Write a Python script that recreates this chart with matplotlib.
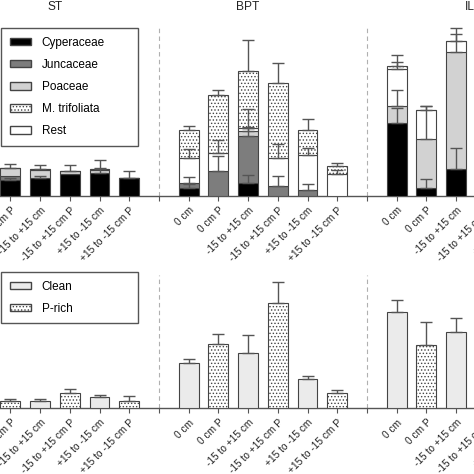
import numpy as np
import matplotlib
matplotlib.use("Agg")
import matplotlib.pyplot as plt
import matplotlib.transforms as mtransforms
from matplotlib.patches import Patch

plt.rcParams['font.family'] = ['Liberation Sans', 'DejaVu Sans']
plt.rcParams['hatch.linewidth'] = 0.6
plt.rcParams['hatch.color'] = '#222222'

nan = np.nan

sites = ['ST', 'BPT', 'IL']
depth_labels = ['0 cm', '0 cm P', '-15 to +15 cm', '-15 to +15 cm P',
                '+15 to -15 cm', '+15 to -15 cm P']

# top panel: biomass per plant group, one list per site (6 treatments each)
cyper = {'ST': [nan, 16, 18.4, 22.4, 23.4, 18],
         'BPT': [8, 0, 12.7, 0, 0, 0],
         'IL': [73.3, 8, 26.7, nan, nan, nan]}
junc = {'ST': [nan, 4.3, 0, 0, 0, 0],
        'BPT': [5.3, 25, 47.6, 10, 6, 0],
        'IL': [0, 0, 0, nan, nan, nan]}
poac = {'ST': [nan, 7.3, 8, 2.3, 2.3, 0],
        'BPT': [0, 0, 5, 0, 0, 0],
        'IL': [16.4, 49.3, 117.3, nan, nan, nan]}
rest = {'ST': [nan, 0.6, 1, 0, 1, 0],
        'BPT': [25, 17.7, 3, 27.7, 35, 22],
        'IL': [37.6, 28.4, 10.7, nan, nan, nan]}
mtrif = {'ST': [nan, 0, 0, 0, 0, 0],
         'BPT': [27.3, 58, 56.7, 75, 25, 8],
         'IL': [2.7, 0, 0, nan, nan, nan]}

cyper_err = {'ST': [nan, 2, 1.6, 0, 5, 7],
             'BPT': [3.7, 0, 8.3, 0, 0, 0],
             'IL': [15, 9.4, 21.7, nan, nan, nan]}
junc_err = {'ST': [nan, 0, 0, 0, 0, 0],
            'BPT': [5.7, 15.3, 9, 10, 5.7, 0],
            'IL': [0, 0, 0, nan, nan, nan]}
poac_err = {'ST': [nan, 4.5, 0, 6.7, 0, 0],
            'BPT': [0, 0, 3, 0, 0, 0],
            'IL': [16, 32.3, 17.7, nan, nan, nan]}
rest_err = {'ST': [nan, 0, 3.6, 0, 9.7, 0],
            'BPT': [9, 13, 19, 14.3, 6.7, 4],
            'IL': [6.6, 4, 13.7, nan, nan, nan]}
mtrif_err = {'ST': [nan, 0, 0, 0, 0, 0],
             'BPT': [4, 5.3, 31, 20, 11, 2.7],
             'IL': [11, 0, 0, nan, nan, nan]}

# bottom panel: clean vs P-rich
total = {'ST': [nan, 7.7, 7, 15, 11, 7.7],
         'BPT': [45, 64.7, 55.7, 105, 29, 15.7],
         'IL': [96.3, 63, 76.7, nan, nan, nan]}
total_err = {'ST': [nan, 1.5, 2, 4, 2.7, 4.7],
             'BPT': [4.7, 9.3, 17.7, 21.3, 3, 3],
             'IL': [11.7, 23.7, 13.7, nan, nan, nan]}

# ---- layout ----
W = 474
px0, ppu = -19.3, 29.71          # pixel of x=0, pixels per unit
xlo, xhi = -1, 20
left = (px0 + ppu * xlo) / W
width = ppu * (xhi - xlo) / W

fig = plt.figure(figsize=(4.74, 4.74), dpi=100)
ax1 = fig.add_axes([left, (W - 196) / W, width, 174 / W])
ax2 = fig.add_axes([left, (W - 408.3) / W, width, 136.3 / W])
ax1.set_ylim(0, 174)
ax2.set_ylim(0, 136.3)

edge = '#444444'
bw = 0.67
dots = '.....'
c_cyp, c_jun, c_poa, c_clean = 'black', '#7d7d7d', '#d2d2d2', '#ebebeb'

positions = {}
for i, s in enumerate(sites):
    positions[s] = np.arange(6) + 7 * i

seps = [6, 13]
all_ticks = np.arange(xlo, xhi + 1)


def err_bars(ax, x, top, err):
    top = np.asarray(top, float)
    err = np.asarray(err, float)
    ok = np.isfinite(top) & np.isfinite(err) & (err > 0)
    ax.errorbar(x[ok], top[ok], yerr=[np.zeros(ok.sum()), err[ok]], fmt='none',
                ecolor='#555555', elinewidth=1, capsize=4.5, capthick=1, zorder=5)


for s in sites:
    x = positions[s]
    bottom = np.zeros(6)
    stack = [(cyper[s], cyper_err[s], c_cyp, None),
             (junc[s], junc_err[s], c_jun, None),
             (poac[s], poac_err[s], c_poa, None),
             (rest[s], rest_err[s], 'white', None),
             (mtrif[s], mtrif_err[s], 'white', dots)]
    for vals, errs, col, hatch in stack:
        v = np.asarray(vals, float)
        ax1.bar(x, v, bw, bottom=bottom, color=col, edgecolor=edge,
                linewidth=0.8, hatch=hatch, zorder=3)
        top = bottom + v
        err_bars(ax1, x, np.where(v > 0, top, nan), errs)
        bottom = top

    v = np.asarray(total[s], float)
    for k in range(6):
        if not np.isfinite(v[k]):
            continue
        p_rich = k % 2 == 1
        ax2.bar(x[k], v[k], bw, color='white' if p_rich else c_clean,
                edgecolor=edge, linewidth=0.8, hatch=dots if p_rich else None,
                zorder=3)
    err_bars(ax2, x, v, total_err[s])

tick_labels = []
for t in all_ticks:
    lab = ''
    for s in sites:
        if t in positions[s]:
            lab = depth_labels[t - positions[s][0]]
    tick_labels.append(lab)

for ax in (ax1, ax2):
    ax.set_xlim(xlo, xhi)
    ax.vlines(seps, 0, ax.get_ylim()[1] - 3, colors='#b0b0b0',
              linestyles=(0, (4, 3)), linewidth=0.8, zorder=1)
    for sp in ('left', 'right', 'top'):
        ax.spines[sp].set_visible(False)
    ax.spines['bottom'].set_color('#555555')
    ax.spines['bottom'].set_linewidth(1)
    ax.set_yticks([])
    ax.set_xticks(all_ticks)
    ax.set_xticklabels(tick_labels, rotation=45, ha='right', va='top',
                       rotation_mode='anchor', fontsize=7.3, color='#222222')
    ax.tick_params(axis='x', length=3.5, width=0.8, color='#555555', pad=3)

# site titles
tr = mtransforms.blended_transform_factory(ax1.transData, fig.transFigure)
for s, xt in zip(sites, [2.5, 9.0, 16.45]):
    ax1.text(xt, 1 - 7 / W, s, transform=tr, ha='center', va='center',
             fontsize=8.6, color='#222222', clip_on=False)

# legends
top_handles = [Patch(facecolor=c_cyp, edgecolor=edge, label='Cyperaceae'),
               Patch(facecolor=c_jun, edgecolor=edge, label='Juncaceae'),
               Patch(facecolor=c_poa, edgecolor=edge, label='Poaceae'),
               Patch(facecolor='white', edgecolor=edge, hatch=dots, label='M. trifoliata'),
               Patch(facecolor='white', edgecolor=edge, label='Rest')]
bot_handles = [Patch(facecolor=c_clean, edgecolor=edge, label='Clean'),
               Patch(facecolor='white', edgecolor=edge, hatch=dots, label='P-rich')]

leg_kw = dict(loc='upper left', mode='expand', borderaxespad=0, fontsize=8.5,
              handlelength=1.8, handleheight=0.6, handletextpad=0.9,
              labelspacing=0.85, borderpad=0.75, fancybox=False,
              edgecolor='#555555', framealpha=1)
l1 = ax1.legend(handles=top_handles, bbox_to_anchor=(1 / W, 0, 137 / W, 1 - 28 / W),
                bbox_transform=fig.transFigure, **leg_kw)
l1.get_frame().set_linewidth(1)
l2 = ax2.legend(handles=bot_handles, bbox_to_anchor=(1 / W, 0, 137 / W, 1 - 271.7 / W),
                bbox_transform=fig.transFigure, **leg_kw)
l2.get_frame().set_linewidth(1)

fig.savefig('out.png', dpi=100)
